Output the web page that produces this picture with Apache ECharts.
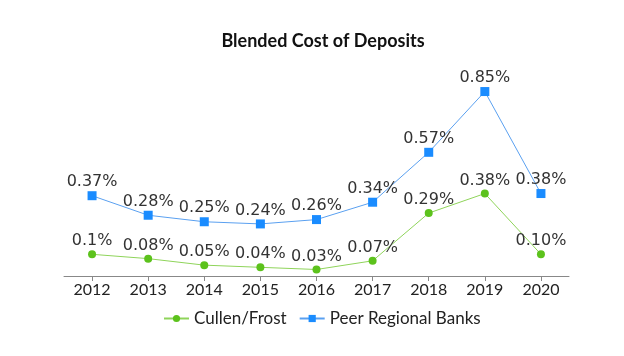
<!DOCTYPE html>
<html>
<head>
<meta charset="utf-8">
<script src="https://cdn.jsdelivr.net/npm/echarts@6/dist/echarts.min.js"></script>
<style>html,body{margin:0;padding:0;background:#fff}#c{width:624px;height:356px}</style>
</head>
<body>
<div id="c"></div>
<script>
var years = ['2012','2013','2014','2015','2016','2017','2018','2019','2020'];
var cullenFrost = [0.10, 0.08, 0.05, 0.04, 0.03, 0.07, 0.29, 0.38, 0.10];
var cullenLabels = ['0.1%','0.08%','0.05%','0.04%','0.03%','0.07%','0.29%','0.38%','0.10%'];
var peerBanks = [0.37, 0.28, 0.25, 0.24, 0.26, 0.34, 0.57, 0.85, 0.38];
var peerLabels = ['0.37%','0.28%','0.25%','0.24%','0.26%','0.34%','0.57%','0.85%','0.38%'];

var chart = echarts.init(document.getElementById('c'));
var labelStyle = function(arr){
  return {
    show: true, position: 'top', distance: 1,
    fontFamily: 'DejaVu Sans', fontSize: 16, color: '#333',
    formatter: function(p){ return arr[p.dataIndex]; }
  };
};
chart.setOption({
  animation: false,
  title: {
    text: 'Blended Cost of Deposits',
    left: 318, top: 27, textAlign: 'center',
    textStyle: {fontFamily: 'Lato', fontWeight: 'bold', fontSize: 18, color: '#111'}
  },
  legend: {
    bottom: 24, left: 158,
    itemWidth: 25, itemHeight: 9, itemGap: 12,
    textStyle: {fontFamily: 'Lato', fontSize: 17, color: '#222'},
    data: ['Cullen/Frost', 'Peer Regional Banks']
  },
  grid: {left: 64, right: 55, top: 59, bottom: 80},
  xAxis: {
    type: 'category', data: years, boundaryGap: true,
    axisLine: {lineStyle: {color: '#888'}},
    axisTick: {show: true, alignWithLabel: true, length: 5, lineStyle: {color: '#888'}},
    axisLabel: {fontFamily: 'Lato', fontSize: 16, color: '#222', margin: 6}
  },
  yAxis: {
    type: 'value', min: 0, max: 1.0, show: false,
    splitLine: {show: false}
  },
  series: [
    {
      name: 'Cullen/Frost', type: 'line', data: cullenFrost,
      symbol: 'circle', symbolSize: 8,
      itemStyle: {color: '#5cc21c'},
      lineStyle: {color: '#8fd45a', width: 1},
      label: labelStyle(cullenLabels)
    },
    {
      name: 'Peer Regional Banks', type: 'line', data: peerBanks,
      symbol: 'rect', symbolSize: 9,
      itemStyle: {color: '#1a8cff'},
      lineStyle: {color: '#5aa0f0', width: 1},
      label: labelStyle(peerLabels)
    }
  ]
});
</script>
</body>
</html>
